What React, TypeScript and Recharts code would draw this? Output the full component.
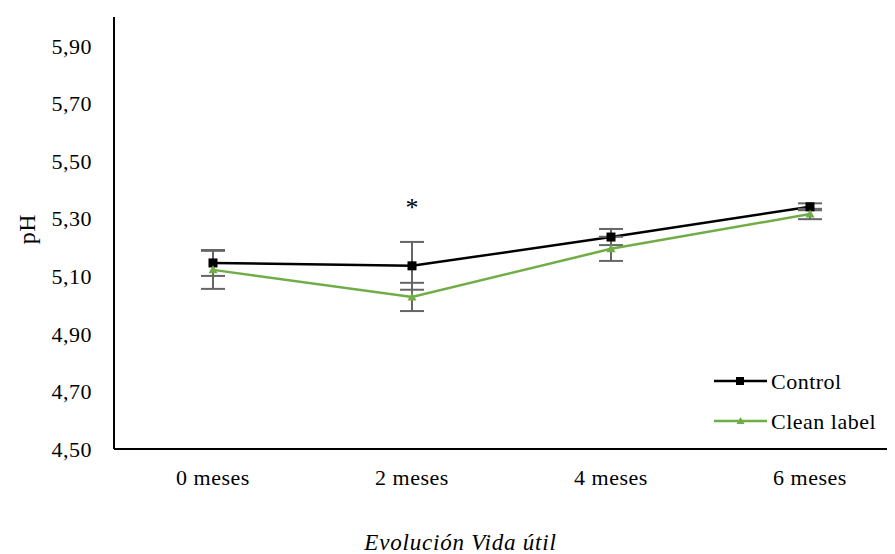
import React from "react";
import { LineChart, Line, XAxis, YAxis, ErrorBar, LabelList } from "recharts";

const categories = ["0 meses", "2 meses", "4 meses", "6 meses"];
const controlValues = [5.146, 5.136, 5.236, 5.341];
const controlErrors = [0.045, 0.083, 0.028, 0.012];
const cleanValues = [5.122, 5.028, 5.195, 5.316];
const cleanErrors = [0.066, 0.049, 0.042, 0.018];
const significance = ["", "*", "", ""];
const yTicks = [4.5, 4.7, 4.9, 5.1, 5.3, 5.5, 5.7, 5.9];
const seriesNames = ["Control", "Clean label"];

const data = categories.map((c, i) => ({
  name: c,
  control: controlValues[i],
  controlErr: controlErrors[i],
  clean: cleanValues[i],
  cleanErr: cleanErrors[i],
  sig: significance[i],
}));

const FONT = "'Liberation Serif', 'Times New Roman', serif";
const GREEN = "#70AD47";
const ERR = "#666666";

const SquareDot = (props: any) => {
  const { cx, cy } = props;
  if (cx == null || cy == null) return null;
  return <rect x={cx - 4.5} y={cy - 4.5} width={9} height={9} fill="#000" />;
};

const TriDot = (props: any) => {
  const { cx, cy } = props;
  if (cx == null || cy == null) return null;
  return <path d={`M${cx},${cy - 4.5} L${cx + 4.5},${cy + 3.5} L${cx - 4.5},${cy + 3.5} Z`} fill={GREEN} />;
};

const SigLabel = (props: any) => {
  const { x, y, index } = props;
  const s = significance[index];
  if (!s) return null;
  return (
    <text x={x} y={y - 50} textAnchor="middle" fontFamily={FONT} fontSize={26} fill="#000">
      {s}
    </text>
  );
};

const LegendOverlay = () => (
  <svg width={180} height={80} style={{ position: "absolute", left: 714, top: 368 }}>
    <g>
      <line x1={0} y1={13} x2={53} y2={13} stroke="#000" strokeWidth={2.5} />
      <rect x={22} y={9} width={8} height={8} fill="#000" />
      <text x={57} y={13} dy="0.35em" fontFamily={FONT} fontSize={22} letterSpacing={0.5} fill="#000">
        {seriesNames[0]}
      </text>
    </g>
    <g>
      <line x1={0} y1={53} x2={53} y2={53} stroke={GREEN} strokeWidth={2.5} />
      <path d="M26.5,49 L30.5,56 L22.5,56 Z" fill={GREEN} />
      <text x={57} y={53} dy="0.35em" fontFamily={FONT} fontSize={22} letterSpacing={0.5} fill="#000">
        {seriesNames[1]}
      </text>
    </g>
  </svg>
);

export default function App() {
  return (
    <div
      style={{
        position: "relative",
        marginLeft: -8,
        marginTop: -8,
        width: 895,
        height: 554,
        overflow: "hidden",
        background: "#fff",
      }}
    >
      <LineChart width={909} height={554} data={data} margin={{ top: 17, right: 0, left: 0, bottom: 75 }}>
        <XAxis
          dataKey="name"
          axisLine={{ stroke: "#000", strokeWidth: 2 }}
          tickLine={false}
          tickSize={0}
          tickMargin={20}
          height={30}
          padding={{ left: 99, right: 99 }}
          tick={{ fontFamily: FONT, fontSize: 22, fill: "#000", letterSpacing: 0.5 }}
          label={(p: any) => {
            const vb = p.viewBox || {};
            return (
              <text
                x={vb.x + vb.width / 2 - 51}
                y={550}
                textAnchor="middle"
                fontFamily={FONT}
                fontStyle="italic"
                fontSize={23}
                letterSpacing={0.8}
                fill="#000"
              >
                Evolución Vida útil
              </text>
            );
          }}
        />
        <YAxis
          domain={[4.5, 6.0]}
          ticks={yTicks}
          interval={0}
          width={114}
          axisLine={{ stroke: "#000", strokeWidth: 2 }}
          tickLine={false}
          tickSize={0}
          tickMargin={22}
          tickFormatter={(v: number) => v.toFixed(2).replace(".", ",")}
          tick={{ fontFamily: FONT, fontSize: 22, fill: "#000", letterSpacing: 0.5 }}
          label={(p: any) => {
            const vb = p.viewBox || {};
            const cy = vb.y + vb.height / 2 - 4;
            return (
              <text
                x={27}
                y={cy}
                transform={`rotate(-90 27 ${cy})`}
                textAnchor="middle"
                dy="0.35em"
                fontFamily={FONT}
                fontSize={24}
                letterSpacing={0.5}
                fill="#000"
              >
                pH
              </text>
            );
          }}
        />
        <Line
          dataKey="control"
          name={seriesNames[0]}
          stroke="#000"
          strokeWidth={2.5}
          dot={<SquareDot />}
          activeDot={false}
          isAnimationActive={false}
        >
          <ErrorBar dataKey="controlErr" direction="y" width={12} stroke={ERR} strokeWidth={2} />
          <LabelList dataKey="sig" content={<SigLabel />} />
        </Line>
        <Line
          dataKey="clean"
          name={seriesNames[1]}
          stroke={GREEN}
          strokeWidth={2.5}
          dot={<TriDot />}
          activeDot={false}
          isAnimationActive={false}
        >
          <ErrorBar dataKey="cleanErr" direction="y" width={12} stroke={ERR} strokeWidth={2} />
        </Line>
      </LineChart>
      <LegendOverlay />
    </div>
  );
}
